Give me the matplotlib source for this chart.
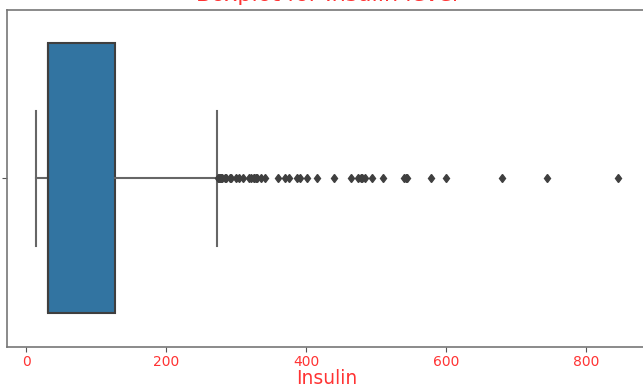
import matplotlib
matplotlib.use("Agg")
from matplotlib import pyplot as plt

# Insulin box statistics (zeros replaced by the median)
q1 = 30.5
median = 31.25
q3 = 127.25
whisker_low = 14
whisker_high = 272
fliers = [274, 275, 277, 278, 280, 284, 285, 291, 293, 300, 304, 310, 318,
          321, 325, 326, 328, 330, 335, 342, 360, 370, 375, 387, 392, 402,
          415, 440, 465, 474, 478, 480, 485, 495, 510, 540, 543, 545, 579,
          600, 680, 744, 846]

box_color = "#3274a1"
line_color = "#3f3f3f"

fig = plt.figure(figsize=(6.43, 3.87), dpi=100)
ax = fig.add_axes([7 / 643, 40 / 387, 640 / 643, 337.5 / 387])

stats = [dict(q1=q1, med=median, q3=q3, whislo=whisker_low,
              whishi=whisker_high, fliers=fliers, label="")]
ax.bxp(stats, positions=[0], widths=0.8, capwidths=0.4,
       orientation="horizontal", patch_artist=True, manage_ticks=False,
       boxprops=dict(facecolor=box_color, edgecolor=line_color, linewidth=1.5),
       medianprops=dict(color=line_color, linewidth=1.5),
       whiskerprops=dict(color="#666666", linewidth=1.5),
       capprops=dict(color="#666666", linewidth=1.5),
       flierprops=dict(marker="d", markerfacecolor=line_color,
                       markeredgecolor=line_color, markersize=4.5,
                       linestyle="none"))

ax.set_ylim(0.5, -0.5)
ax.set_yticks([0])
ax.set_yticklabels([""])
ax.margins(x=0.05)

for spine in ax.spines.values():
    spine.set_color("#777777")
    spine.set_linewidth(1.2)
ax.tick_params(colors="#555555", labelcolor="#ff3333", labelsize=10, pad=2.5)

ax.set_xlabel("Insulin", color="#ff3333", fontsize=13.5, labelpad=0)
ax.set_title("Boxplot for Insulin level", color="#ff3333", fontsize=16, pad=6.3)

fig.savefig("out.png", dpi=100)
